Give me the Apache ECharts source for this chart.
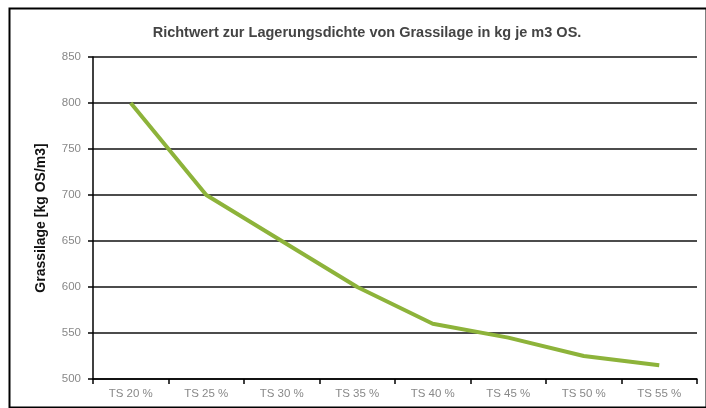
<!DOCTYPE html>
<html><head><meta charset="utf-8">
<script src="https://cdn.jsdelivr.net/npm/echarts@6/dist/echarts.min.js"></script>
<style>html,body{margin:0;padding:0;background:#fff}#c{width:706px;height:408px}</style>
</head><body><div id="c"></div>
<script>
const titleText = 'Richtwert zur Lagerungsdichte von Grassilage in kg je m3 OS.';
const yAxisName = 'Grassilage [kg OS/m3]';
const categories = ['TS 20 %','TS 25 %','TS 30 %','TS 35 %','TS 40 %','TS 45 %','TS 50 %','TS 55 %'];
const values = [800, 700, 650, 600, 560, 545, 525, 515];
const yMin = 500, yMax = 850, yStep = 50;

const chart = echarts.init(document.getElementById('c'), null, {renderer:'canvas'});
chart.setOption({
  animation:false,
  backgroundColor:'#fff',
  title:{text:titleText,left:362,top:20,textAlign:'center',
    textStyle:{fontFamily:'Liberation Sans',fontSize:14.5,fontWeight:'bold',color:'#444'}},
  grid:{left:93,right:9,top:57,bottom:29,containLabel:false},
  xAxis:{type:'category',data:categories,boundaryGap:true,
    axisLine:{lineStyle:{color:'#000',width:1.5}},
    axisTick:{show:true,length:5,lineStyle:{color:'#000',width:1.5},alignWithLabel:false},
    axisLabel:{color:'#888',fontSize:11.5,fontFamily:'Liberation Sans',margin:9},
    splitLine:{show:false}},
  yAxis:{type:'value',min:yMin,max:yMax,interval:yStep,
    name:yAxisName,nameLocation:'middle',nameGap:45,
    nameTextStyle:{fontFamily:'Liberation Sans',fontSize:14,fontWeight:'bold',color:'#111'},
    axisLine:{show:true,lineStyle:{color:'#000',width:1.5}},
    axisTick:{show:true,length:5,lineStyle:{color:'#000',width:1.5}},
    axisLabel:{color:'#888',fontSize:11.5,fontFamily:'Liberation Sans',margin:12},
    splitLine:{show:true,lineStyle:{color:'#111',width:1.5}}},
  series:[{type:'line',data:values,showSymbol:false,symbol:'none',
    lineStyle:{color:'#8db33a',width:4},itemStyle:{color:'#8db33a'}}],
  graphic:[{type:'rect',left:7,top:6,shape:{width:697,height:399},
    style:{fill:'none',stroke:'#000',lineWidth:2},silent:true,z:-1}]
});
</script></body></html>
